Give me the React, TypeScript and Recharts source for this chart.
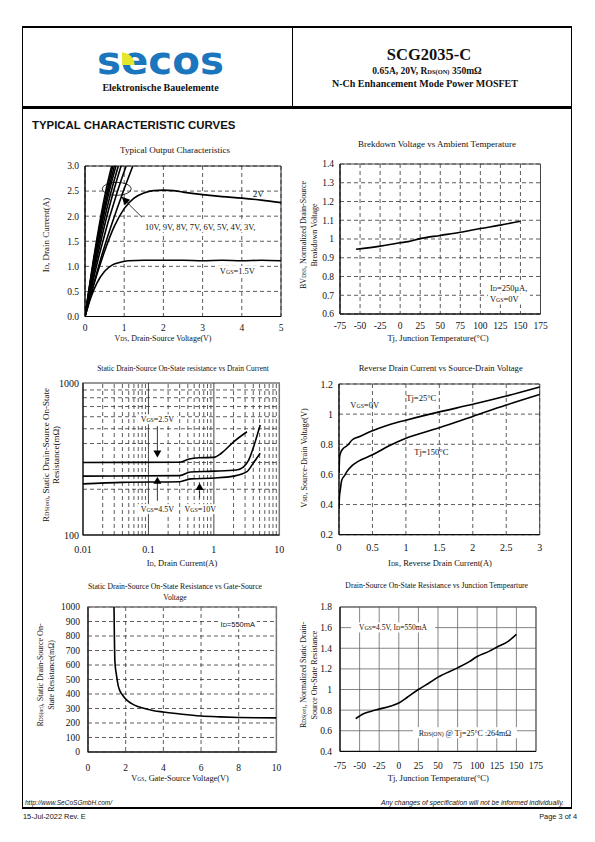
import React from "react";
import {
  CartesianGrid,
  Line,
  LineChart,
  ReferenceArea,
  ReferenceDot,
  ReferenceLine,
  XAxis,
  YAxis,
} from "recharts";

const SERIF = '"Liberation Serif", "Times New Roman", serif';
const SANS = '"Liberation Sans", Arial, sans-serif';

// Typical output characteristics: [VDS (V), ID (A)] per VGS
const OUT_10V = [[0, 0], [0.24, 1.25], [0.53, 2.5], [0.68, 3.0]];
const OUT_9V = [[0, 0], [0.25, 1.25], [0.56, 2.5], [0.71, 3.0]];
const OUT_8V = [[0, 0], [0.26, 1.25], [0.59, 2.5], [0.75, 3.0]];
const OUT_7V = [[0, 0], [0.28, 1.25], [0.62, 2.5], [0.79, 3.0]];
const OUT_6V = [[0, 0], [0.3, 1.25], [0.67, 2.5], [0.85, 3.0]];
const OUT_5V = [[0, 0], [0.33, 1.25], [0.73, 2.5], [0.92, 3.0]];
const OUT_4V = [[0, 0], [0.37, 1.25], [0.83, 2.5], [1.05, 3.0]];
const OUT_3V = [[0, 0], [0.44, 1.25], [0.98, 2.5], [1.22, 3.0]];
const OUT_2V = [
  [0, 0], [0.25, 0.7], [0.5, 1.3], [0.75, 1.8], [1.0, 2.15], [1.25, 2.36], [1.5, 2.46],
  [1.75, 2.51], [2.0, 2.52], [2.25, 2.51], [2.5, 2.48], [3.0, 2.43], [3.5, 2.39],
  [4.0, 2.36], [4.5, 2.32], [5.0, 2.27],
];
const OUT_1V5 = [
  [0, 0], [0.15, 0.38], [0.3, 0.66], [0.5, 0.9], [0.7, 1.03], [0.9, 1.08], [1.1, 1.11],
  [1.5, 1.12], [2.0, 1.12], [2.5, 1.12], [3.0, 1.11], [3.5, 1.12], [4.0, 1.11], [4.5, 1.12], [5.0, 1.11],
];
const OUT_X_TICKS = [0, 1, 2, 3, 4, 5];
const OUT_Y_TICKS = [0, 0.5, 1, 1.5, 2, 2.5, 3];

// Normalized BVDSS vs Tj
const BV_TJ = [
  [-55, 0.945], [-25, 0.962], [0, 0.98], [10, 0.986], [25, 1.002], [50, 1.019],
  [75, 1.036], [100, 1.056], [125, 1.074], [150, 1.095],
];
const TJ_TICKS = [-75, -50, -25, 0, 25, 50, 75, 100, 125, 150, 175];
const BV_Y_TICKS = [0.6, 0.7, 0.8, 0.9, 1, 1.1, 1.2, 1.3, 1.4];

// RDS(on) (mOhm) vs ID (A), log-log
const RID_2V5 = [[0.01, 300], [0.3, 301], [0.42, 316], [0.6, 322], [1.0, 324], [1.3, 345], [2.0, 410], [3.2, 478]];
const RID_4V5 = [[0.01, 244], [0.3, 246], [0.44, 260], [1.0, 263], [2.2, 268], [2.85, 281], [3.4, 311], [4.05, 381], [5.1, 529]];
const RID_10V = [[0.01, 217], [0.04, 222], [0.3, 224], [0.44, 234], [1.0, 237], [2.0, 244], [3.2, 261], [4.0, 297], [5.1, 345]];
const RID_X_TICKS = [0.01, 0.1, 1, 10];
const RID_Y_TICKS = [100, 1000];
const RID_X_MINOR = [0.02, 0.03, 0.04, 0.05, 0.06, 0.07, 0.08, 0.09, 0.2, 0.3, 0.4, 0.5, 0.6, 0.7, 0.8, 0.9, 2, 3, 4, 5, 6, 7, 8, 9];
const RID_X_MAJOR = [0.1, 1];
const RID_Y_MINOR = [200, 300, 400, 500, 600, 700, 800, 900];

// VSD (V) vs ISD (A)
const VSD_25C = [
  [0, 0.61], [0.005, 0.68], [0.01, 0.72], [0.03, 0.75], [0.06, 0.77], [0.12, 0.79], [0.2, 0.83],
  [0.3, 0.85], [0.5, 0.89], [0.75, 0.93], [1, 0.96], [1.5, 1.015], [2, 1.065], [2.5, 1.12], [3, 1.18],
];
const VSD_150C = [
  [0, 0.37], [0.005, 0.44], [0.02, 0.5], [0.04, 0.56], [0.08, 0.59], [0.12, 0.62], [0.2, 0.66],
  [0.3, 0.69], [0.5, 0.73], [0.75, 0.79], [1, 0.84], [1.5, 0.91], [2, 0.985], [2.5, 1.06], [3, 1.13],
];
const VSD_X_TICKS = [0, 0.5, 1, 1.5, 2, 2.5, 3];
const VSD_Y_TICKS = [0.2, 0.4, 0.6, 0.8, 1, 1.2];

// RDS(on) (mOhm) vs VGS (V)
const RVG = [
  [1.38, 1000], [1.4, 800], [1.43, 620], [1.5, 540], [1.6, 460], [1.7, 420], [1.85, 390],
  [2.0, 365], [2.3, 335], [2.6, 315], [3.0, 300], [3.5, 285], [4, 276], [5, 260], [6, 248],
  [7, 242], [8, 238], [9, 236], [10, 235],
];
const RVG_X_TICKS = [0, 2, 4, 6, 8, 10];
const RVG_Y_TICKS = [0, 100, 200, 300, 400, 500, 600, 700, 800, 900, 1000];

// Normalized RDS(on) vs Tj
const RTJ = [
  [-55, 0.717], [-45, 0.765], [-35, 0.79], [-25, 0.81], [-10, 0.84], [0, 0.87], [10, 0.92],
  [25, 1.0], [40, 1.07], [50, 1.12], [75, 1.21], [90, 1.27], [100, 1.32], [115, 1.37],
  [125, 1.41], [140, 1.47], [150, 1.535],
];
const RTJ_Y_TICKS = [0.4, 0.6, 0.8, 1, 1.2, 1.4, 1.6, 1.8];

const pts = (a: number[][]) => a.map(([x, y]) => ({ x, y }));

const YW = 40;
const MT = 8;
const MR = 14;
const XH = 28;

function Plot({ r, children }: { r: number[]; children: React.ReactNode }) {
  const [l, t, rr, b] = r;
  const w = rr - l + YW + MR;
  const h = b - t + MT + XH;
  return (
    <div style={{ position: "absolute", left: l - YW, top: t - MT }}>
      <LineChart width={w} height={h} margin={{ top: MT, right: MR, left: 0, bottom: 0 }} style={{ overflow: "visible" }}>
        {children}
      </LineChart>
    </div>
  );
}

const tick = (s: number) => ({ fontSize: s, fill: "#111", fontFamily: SERIF });

type TP = {
  x: number; y: number; s?: number; rot?: number; a?: "l" | "c" | "r";
  b?: boolean; i?: boolean; f?: string; lh?: number; color?: string; children: React.ReactNode;
};
function Tx({ x, y, s = 8.5, rot = 0, a = "c", b, i, f = SERIF, lh = 1.2, color = "#111", children }: TP) {
  const tx = a === "c" ? "-50%" : a === "r" ? "-100%" : "0%";
  return (
    <div
      style={{
        position: "absolute", left: x, top: y,
        transform: `translate(${tx}, -50%) rotate(${rot}deg)`,
        fontSize: s, fontFamily: f, fontWeight: b ? "bold" : "normal",
        fontStyle: i ? "italic" : "normal", whiteSpace: "nowrap", lineHeight: lh,
        textAlign: "center", color,
      }}
    >
      {children}
    </div>
  );
}

const Sub = ({ children }: { children: React.ReactNode }) => (
  <span style={{ fontSize: "0.68em" }}>{children}</span>
);

function note(content: React.ReactNode, size = 8.5, anchor: "start" | "middle" | "end" = "middle", bgW = 0, bgH = 0, family = SERIF) {
  return (p: any) => (
    <g>
      {bgW > 0 && (
        <rect
          x={anchor === "start" ? p.cx - 2 : anchor === "end" ? p.cx - bgW + 2 : p.cx - bgW / 2}
          y={p.cy - bgH / 2}
          width={bgW}
          height={bgH}
          fill="#fff"
        />
      )}
      <text x={p.cx} y={p.cy} dy="0.35em" textAnchor={anchor} fontFamily={family} fontSize={size} fill="#111">
        {content}
      </text>
    </g>
  );
}

const ts = (s: string, size = 5.8) => <tspan fontSize={size}>{s}</tspan>;

const triDown = (p: any) => (
  <polygon points={`${p.cx},${p.cy} ${p.cx - 4},${p.cy - 7} ${p.cx + 4},${p.cy - 7}`} fill="#000" />
);
const triUp = (p: any) => (
  <polygon points={`${p.cx},${p.cy} ${p.cx - 4},${p.cy + 7} ${p.cx + 4},${p.cy + 7}`} fill="#000" />
);
const headUpLeft = (p: any) => (
  <polygon points={`${p.cx},${p.cy} ${p.cx + 3},${p.cy + 8.5} ${p.cx + 8.5},${p.cy + 3}`} fill="#000" />
);
const ellipse = (p: any) => <ellipse cx={p.cx} cy={p.cy} rx={14.5} ry={6.5} fill="none" stroke="#000" strokeWidth={0.8} />;

const DASH = "4 3";
const GRID = "#333";

function bar(left: number, top: number, width: number, height: number): React.CSSProperties {
  return { position: "absolute", left, top, width, height, background: "#000" };
}

export default function App() {
  const outCurves = [OUT_10V, OUT_9V, OUT_8V, OUT_7V, OUT_6V, OUT_5V, OUT_4V, OUT_3V, OUT_2V, OUT_1V5];
  return (
    <div style={{ position: "absolute", left: 0, top: 0, width: 595, height: 842, background: "#fff", overflow: "hidden" }}>
      {/* page frame */}
      <div style={bar(21.5, 25.5, 550.5, 2.5)} />
      <div style={bar(21.5, 106, 550.5, 2.5)} />
      <div style={bar(291.5, 26, 1, 81)} />
      <div style={bar(21.5, 26, 1.2, 782)} />
      <div style={bar(570.8, 26, 1.2, 782)} />
      <div style={bar(21.5, 806.5, 550.5, 2.5)} />

      {/* header */}
      <svg style={{ position: "absolute", left: 96, top: 47, overflow: "visible" }} width={132} height={28}>
        <text x={1} y={27} fontFamily='"DejaVu Sans", sans-serif' fontWeight="bold" fontSize={39} fill="#1b76bd" textLength={127} lengthAdjust="spacingAndGlyphs">
          secos
        </text>
        <path d="M26,18 L26,5.5 A12.5,12.5 0 0 1 38.5,18 Z" fill="#e6e62c" />
      </svg>
      <Tx x={160.5} y={87.5} s={10} b lh={1}>Elektronische Bauelemente</Tx>
      <Tx x={429} y={55} s={16.5} b>SCG2035-C</Tx>
      <Tx x={427} y={71.5} s={9.5} b>
        0.65A, 20V, R<Sub>DS(ON)</Sub> 350mΩ
      </Tx>
      <Tx x={425} y={83.5} s={10} b>N-Ch Enhancement Mode Power MOSFET</Tx>
      <Tx x={32} y={126} s={11.4} b a="l" f={SANS}>TYPICAL CHARACTERISTIC CURVES</Tx>

      {/* Chart 1: output characteristics */}
      <Tx x={175} y={150} s={9}>Typical Output Characteristics</Tx>
      <Tx x={46} y={235} s={9} rot={-90}>I<Sub>D</Sub>, Drain Current(A)</Tx>
      <Tx x={163} y={339} s={8}>V<Sub>DS</Sub>, Drain-Source Voltage(V)</Tx>
      <Plot r={[85, 166, 281, 316.5]}>
        <CartesianGrid stroke={GRID} strokeDasharray={DASH} strokeWidth={0.8} />
        <XAxis type="number" dataKey="x" domain={[0, 5]} ticks={OUT_X_TICKS} interval={0} allowDataOverflow
          tickLine={false} tickSize={0} tickMargin={7.5} axisLine={{ stroke: "#000" }} height={XH} tick={tick(9.5)} />
        <YAxis type="number" domain={[0, 3]} ticks={OUT_Y_TICKS} interval={0} allowDataOverflow width={YW}
          tickFormatter={(v: number) => v.toFixed(1)}
          tickLine={false} tickSize={0} tickMargin={6} axisLine={{ stroke: "#000" }} tick={tick(9.5)} />
        <ReferenceArea x1={0} x2={5} y1={0} y2={3} fill="none" stroke="#222" strokeWidth={1} />
        <ReferenceDot x={1.53} y={1.78} shape={note("10V, 9V, 8V, 7V, 6V, 5V, 4V, 3V,", 8.5, "start", 118, 10)} />
        <ReferenceDot x={3.44} y={0.91} shape={note(<>V{ts("GS")}=1.5V</>, 8.5, "start", 40, 10)} />
        {outCurves.map((c, k) => (
          <Line key={k} data={pts(c)} dataKey="y" type="monotone" stroke="#000" strokeWidth={1.6} dot={false} isAnimationActive={false} />
        ))}
        <ReferenceDot x={0.81} y={2.545} shape={ellipse} />
        <ReferenceLine segment={[{ x: 1.45, y: 1.98 }, { x: 1.0, y: 2.33 }]} stroke="#000" strokeWidth={0.8} />
        <ReferenceDot x={0.936} y={2.389} shape={headUpLeft} />
        <ReferenceDot x={4.42} y={2.45} shape={note("2V", 9)} />
      </Plot>

      {/* Chart 2: breakdown voltage vs temperature */}
      <Tx x={437} y={144.3} s={9}>Brekdown Voltage vs Ambient Temperature</Tx>
      <Tx x={310.4} y={235} s={8} rot={-90} lh={1.34}>
        BV<Sub>DSS</Sub>, Normalized Drain-Source<br />Breakdown Voltage
      </Tx>
      <Tx x={438} y={338.3} s={8.6}>Tj, Junction Temperature(°C)</Tx>
      <Plot r={[340, 164, 540.5, 314]}>
        <CartesianGrid stroke={GRID} strokeDasharray={DASH} strokeWidth={0.8} />
        <XAxis type="number" dataKey="x" domain={[-75, 175]} ticks={TJ_TICKS} interval={0} allowDataOverflow
          tickLine={false} tickSize={0} tickMargin={8.4} axisLine={{ stroke: "#000" }} height={XH} tick={tick(9.5)} />
        <YAxis type="number" domain={[0.6, 1.4]} ticks={BV_Y_TICKS} interval={0} allowDataOverflow width={YW}
          tickLine={false} tickSize={0} tickMargin={6} axisLine={{ stroke: "#000" }} tick={tick(9.5)} />
        <ReferenceArea x1={-75} x2={175} y1={0.6} y2={1.4} fill="none" stroke="#444" strokeWidth={1} />
        <Line data={pts(BV_TJ)} dataKey="y" type="monotone" stroke="#000" strokeWidth={1.6} dot={false} isAnimationActive={false} />
        <ReferenceDot x={112} y={0.74} shape={note(<>I{ts("D")}=250μA,</>, 8.5, "start", 42, 11)} />
        <ReferenceDot x={112} y={0.68} shape={note(<>V{ts("GS")}=0V</>, 8.5, "start", 42, 11)} />
      </Plot>

      {/* Chart 3: RDS(on) vs drain current */}
      <Tx x={183} y={368.3} s={7.5}>Static Drain-Source On-State resistance vs Drain Current</Tx>
      <Tx x={51} y={455} s={9} rot={-90} lh={1.11}>
        R<Sub>DS(on)</Sub>, Static Drain-Source On-State<br />Resistance(mΩ)
      </Tx>
      <Tx x={182} y={563} s={8.5}>I<Sub>D</Sub>, Drain Current(A)</Tx>
      <Plot r={[82.7, 383, 279, 535]}>
        <XAxis type="number" dataKey="x" scale="log" domain={[0.01, 10]} ticks={RID_X_TICKS} interval={0} allowDataOverflow
          tickFormatter={(v: number) => String(v)}
          tickLine={false} tickSize={0} tickMargin={10.5} axisLine={{ stroke: "#000" }} height={XH} tick={tick(10)} />
        <YAxis type="number" scale="log" domain={[100, 1000]} ticks={RID_Y_TICKS} interval={0} allowDataOverflow width={YW}
          tickLine={false} tickSize={0} tickMargin={4} axisLine={{ stroke: "#000" }} tick={tick(10)} />
        {RID_X_MINOR.map((v) => (
          <ReferenceLine key={"x" + v} x={v} stroke={GRID} strokeDasharray={DASH} strokeWidth={0.8} />
        ))}
        {RID_Y_MINOR.map((v) => (
          <ReferenceLine key={"y" + v} y={v} stroke={GRID} strokeDasharray={DASH} strokeWidth={0.8} />
        ))}
        {RID_X_MAJOR.map((v) => (
          <ReferenceLine key={"m" + v} x={v} stroke="#333" strokeWidth={0.9} />
        ))}
        <ReferenceArea x1={0.01} x2={10} y1={100} y2={1000} fill="none" stroke="#777" strokeWidth={1.5} />
        <Line data={pts(RID_2V5)} dataKey="y" type="monotone" stroke="#000" strokeWidth={1.6} dot={false} isAnimationActive={false} />
        <Line data={pts(RID_4V5)} dataKey="y" type="monotone" stroke="#000" strokeWidth={1.6} dot={false} isAnimationActive={false} />
        <Line data={pts(RID_10V)} dataKey="y" type="monotone" stroke="#000" strokeWidth={1.6} dot={false} isAnimationActive={false} />
        <ReferenceDot x={0.137} y={577} shape={note(<>V{ts("GS")}=2.5V</>, 8, "middle", 40, 10)} />
        <ReferenceLine segment={[{ x: 0.137, y: 520 }, { x: 0.137, y: 355 }]} stroke="#000" strokeWidth={0.8} />
        <ReferenceDot x={0.137} y={323} shape={triDown} />
        <ReferenceDot x={0.137} y={242} shape={triUp} />
        <ReferenceLine segment={[{ x: 0.137, y: 222 }, { x: 0.137, y: 168 }]} stroke="#000" strokeWidth={0.8} />
        <ReferenceDot x={0.137} y={148} shape={note(<>V{ts("GS")}=4.5V</>, 8, "middle", 40, 10)} />
        <ReferenceDot x={0.605} y={220} shape={triUp} />
        <ReferenceLine segment={[{ x: 0.605, y: 195 }, { x: 0.605, y: 176 }]} stroke="#000" strokeWidth={0.8} />
        <ReferenceDot x={0.62} y={148} shape={note(<>V{ts("GS")}=10V</>, 8, "middle", 38, 10)} />
      </Plot>

      {/* Chart 4: reverse drain current */}
      <Tx x={440.7} y={367.7} s={8.6}>Reverse Drain Current vs Source-Drain Voltage</Tx>
      <Tx x={305} y={458} s={8.2} rot={-90}>V<Sub>SD</Sub>, Source-Drain Voltage(V)</Tx>
      <Tx x={440} y={563} s={8.5}>I<Sub>DR</Sub>, Reverse Drain Current(A)</Tx>
      <Plot r={[339.3, 384.3, 540, 535]}>
        <CartesianGrid stroke={GRID} strokeDasharray={DASH} strokeWidth={0.8} />
        <XAxis type="number" dataKey="x" domain={[0, 3]} ticks={VSD_X_TICKS} interval={0} allowDataOverflow
          tickLine={false} tickSize={0} tickMargin={9.7} axisLine={{ stroke: "#000" }} height={XH} tick={tick(10)} />
        <YAxis type="number" domain={[0.2, 1.2]} ticks={VSD_Y_TICKS} interval={0} allowDataOverflow width={YW}
          tickLine={false} tickSize={0} tickMargin={6} axisLine={{ stroke: "#000" }} tick={tick(10)} />
        <ReferenceArea x1={0} x2={3} y1={0.2} y2={1.2} fill="none" stroke="#444" strokeWidth={1} />
        <Line data={pts(VSD_25C)} dataKey="y" type="monotone" stroke="#000" strokeWidth={1.6} dot={false} isAnimationActive={false} />
        <Line data={pts(VSD_150C)} dataKey="y" type="monotone" stroke="#000" strokeWidth={1.6} dot={false} isAnimationActive={false} />
        <ReferenceDot x={0.384} y={1.058} shape={note(<>V{ts("GS")}=0V</>, 8.5)} />
        <ReferenceDot x={1.23} y={1.107} shape={note("Tj=25°C", 8.5)} />
        <ReferenceDot x={1.38} y={0.749} shape={note("Tj=150°C", 8.5)} />
      </Plot>

      {/* Chart 5: RDS(on) vs VGS */}
      <Tx x={175} y={592.2} s={7.7} lh={1.43}>
        Static Drain-Source On-State Resistance vs Gate-Source<br />Voltage
      </Tx>
      <Tx x={46.2} y={675} s={8} rot={-90} lh={1.375}>
        R<Sub>DS(on)</Sub>, Static Drain-Source On-<br />State Resistance(mΩ)
      </Tx>
      <Tx x={180} y={779} s={8.3}>V<Sub>GS</Sub>, Gate-Source Voltage(V)</Tx>
      <Plot r={[88.3, 606.7, 276.7, 751.7]}>
        <CartesianGrid stroke={GRID} strokeDasharray={DASH} strokeWidth={0.8} />
        <XAxis type="number" dataKey="x" domain={[0, 10]} ticks={RVG_X_TICKS} interval={0} allowDataOverflow
          tickLine={false} tickSize={0} tickMargin={12.4} axisLine={{ stroke: "#000" }} height={XH} tick={tick(9.5)} />
        <YAxis type="number" domain={[0, 1000]} ticks={RVG_Y_TICKS} interval={0} allowDataOverflow width={YW}
          tickLine={false} tickSize={0} tickMargin={8} axisLine={{ stroke: "#000" }} tick={tick(9.5)} />
        <ReferenceArea x1={0} x2={10} y1={0} y2={1000} fill="none" stroke="#777" strokeWidth={1.5} />
        <Line data={pts(RVG)} dataKey="y" type="monotone" stroke="#000" strokeWidth={1.6} dot={false} isAnimationActive={false} />
        <ReferenceDot x={7.95} y={881} shape={note(<>I{ts("D")}=550mA</>, 7.5, "middle", 38, 10, SANS)} />
      </Plot>

      {/* Chart 6: normalized RDS(on) vs Tj */}
      <Tx x={436.7} y={585.7} s={7.7}>Drain-Source On-State Resistance vs Junction Tempearture</Tx>
      <Tx x={309.7} y={675} s={8} rot={-90} lh={1.34}>
        R<Sub>DS(on)</Sub>, Normalized Static Drain-<br />Source On-State Resistance
      </Tx>
      <Tx x={438.3} y={778.3} s={8.6}>Tj, Junction Temperature(°C)</Tx>
      <Plot r={[340, 607.3, 536, 751.7]}>
        <CartesianGrid stroke="#666" strokeWidth={0.8} />
        <XAxis type="number" dataKey="x" domain={[-75, 175]} ticks={TJ_TICKS} interval={0} allowDataOverflow
          tickLine={false} tickSize={0} tickMargin={10.4} axisLine={{ stroke: "#000" }} height={XH} tick={tick(9.5)} />
        <YAxis type="number" domain={[0.4, 1.8]} ticks={RTJ_Y_TICKS} interval={0} allowDataOverflow width={YW}
          tickLine={false} tickSize={0} tickMargin={8} axisLine={{ stroke: "#000" }} tick={tick(9.5)} />
        <ReferenceArea x1={-75} x2={175} y1={0.4} y2={1.8} fill="none" stroke="#555" strokeWidth={1} />
        <Line data={pts(RTJ)} dataKey="y" type="monotone" stroke="#000" strokeWidth={1.6} dot={false} isAnimationActive={false} />
        <ReferenceDot x={-7.4} y={1.602} shape={note(<>V{ts("GS")}=4.5V, I{ts("D")}=550mA</>, 7.5, "middle", 84, 10)} />
        <ReferenceDot x={84.4} y={0.581} shape={note(<>R{ts("DS(ON)")} @ Tj=25°C :264mΩ</>, 8, "middle", 104, 11)} />
      </Plot>

      {/* footer */}
      <Tx x={25} y={803} s={6.5} a="l" i f={SANS}>http://www.SeCoSGmbH.com/</Tx>
      <Tx x={564} y={803} s={6.8} a="r" i f={SANS}>Any changes of specification will not be informed individually.</Tx>
      <Tx x={23} y={817} s={7.4} a="l" f={SANS}>15-Jul-2022 Rev. E</Tx>
      <Tx x={577} y={817} s={7.4} a="r" f={SANS}>Page 3 of 4</Tx>
    </div>
  );
}
